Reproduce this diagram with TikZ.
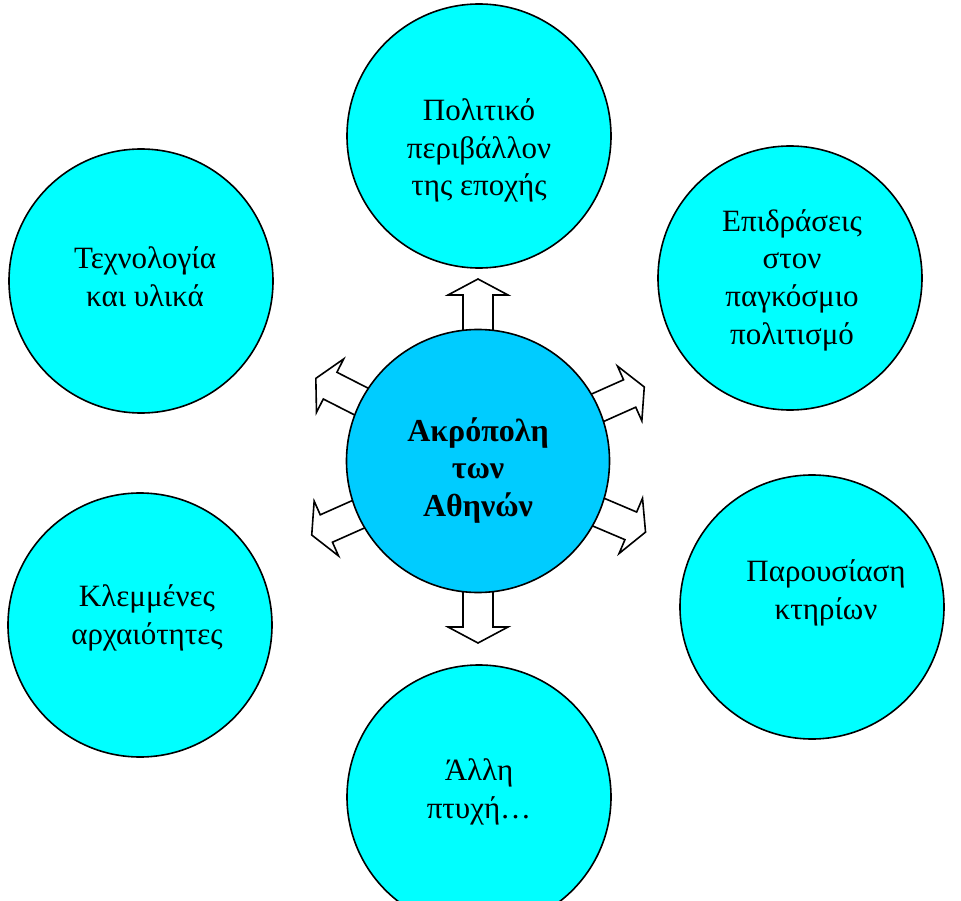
\documentclass[tikz,border=0pt]{standalone}
\usepackage{fontspec}
\setmainfont{Liberation Serif}
\definecolor{bubcyan}{HTML}{00FFFF}
\definecolor{hubblue}{HTML}{00CCFF}
\begin{document}
\begin{tikzpicture}[x=1pt,y=-1pt,
  bub/.style={circle, draw=black, line width=1.6pt, fill=bubcyan, minimum size=264pt, inner sep=0pt},
  hub/.style={circle, draw=black, line width=1.6pt, fill=hubblue, minimum size=263pt, inner sep=0pt},
  lab/.style={align=center, anchor=base, inner sep=0pt, font=\fontsize{31}{37.5}\selectfont},
  hublab/.style={align=center, anchor=base, inner sep=0pt, font=\fontsize{32}{37.5}\selectfont\bfseries},
  blockarr/.style={draw=black, line width=1.6pt, fill=white, line join=miter}]
\useasboundingbox (0,0) rectangle (961,901);
\clip (0,0) rectangle (961,901);
% outer bubbles
\node[bub] (pol) at (479,136) {};
\node[bub] (tech) at (141,281) {};
\node[bub] (epi) at (790,278) {};
\node[bub] (klem) at (140,625) {};
\node[bub] (par) at (812,607) {};
\node[bub] (alli) at (479,797) {};
% block arrows (behind the hub)
\foreach \a in {90,24,-23,-90,204,153}{
  \draw[blockarr, shift={(478,461)}, rotate=\a]
    (112,-15) -- (166,-15) -- (166,-30) -- (182,0) -- (166,30) -- (166,15) -- (112,15) -- cycle;
}
% hub
\node[hub] (hub) at (478,461) {};
% labels (anchor = baseline of last line)
\node[lab] (tpol) at (479,196) {Πολιτικό\\περιβάλλον\\της εποχής};
\node[lab] (ttech) at (145,306) {Τεχνολογία\\και υλικά};
\node[lab] (tepi) at (792,344) {Επιδράσεις\\στον\\παγκόσμιο\\πολιτισμό};
\node[lab] (tklem) at (147,644) {Κλεμμένες\\αρχαιότητες};
\node[lab] (tpar) at (826,619) {Παρουσίαση\\κτηρίων};
\node[lab] (talli) at (479,818) {Άλλη\\πτυχή…};
\node[hublab] (thub) at (478,516) {Ακρόπολη\\των\\Αθηνών};
\end{tikzpicture}
\end{document}
